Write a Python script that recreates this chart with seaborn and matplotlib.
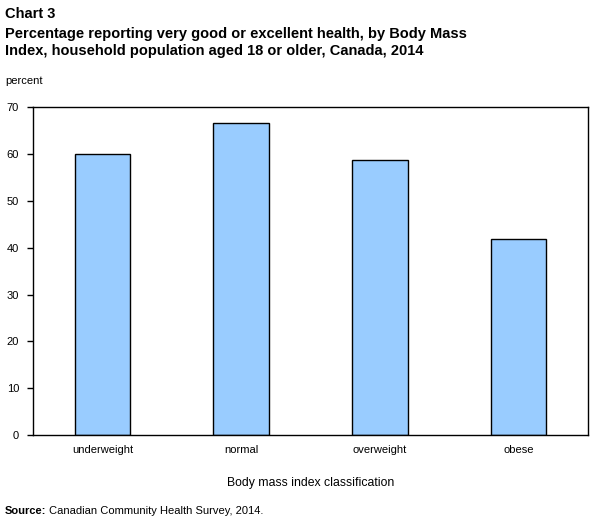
import pandas as pd
import seaborn as sns
import matplotlib.pyplot as plt

# Body mass index categories and share reporting very good/excellent health
categories = ["underweight", "normal", "overweight", "obese"]
percent = [60.0, 66.7, 58.7, 41.9]

df = pd.DataFrame({"bmi": categories, "percent": percent})

sns.set_style("white")
plt.rcParams['font.family'] = ['Liberation Sans', 'DejaVu Sans']
plt.rcParams['text.color'] = 'black'
plt.rcParams['axes.labelcolor'] = 'black'
plt.rcParams['xtick.color'] = 'black'
plt.rcParams['ytick.color'] = 'black'

fig = plt.figure(figsize=(6.07, 5.31), dpi=100)
ax = fig.add_axes([0.0544, 0.1808, 0.9143, 0.6172])

sns.barplot(x="bmi", y="percent", data=df, color="#99CCFF", edgecolor="black",
            linewidth=1.0, width=0.4, saturation=1, ax=ax)

ax.set_ylim(0, 70)
ax.set_xlim(-0.5, 3.5)
ax.set_yticks(range(0, 71, 10))
ax.tick_params(axis='y', length=4, width=1, color='black', labelsize=8, pad=6, left=True)
ax.tick_params(axis='x', length=0, labelsize=8, pad=7)
for s in ax.spines.values():
    s.set_color('black')
    s.set_linewidth(1.0)
    s.set_visible(True)

ax.set_xlabel("Body mass index classification", fontsize=8.8, labelpad=16)
ax.set_ylabel("")

# Titles and notes
fig.text(0.008, 0.986, "Chart 3", fontsize=10.5, fontweight='bold', va='top')
fig.text(0.008, 0.950, "Percentage reporting very good or excellent health, by Body Mass\n"
         "Index, household population aged 18 or older, Canada, 2014",
         fontsize=10.5, fontweight='bold', va='top', linespacing=1.3)
fig.text(0.008, 0.848, "percent", fontsize=8, va='center')
fig.text(0.008, 0.038, "Source:", fontsize=8, fontweight='bold', va='center')
fig.text(0.080, 0.038, "Canadian Community Health Survey, 2014.", fontsize=8, va='center')

fig.savefig("out.png", dpi=100)
